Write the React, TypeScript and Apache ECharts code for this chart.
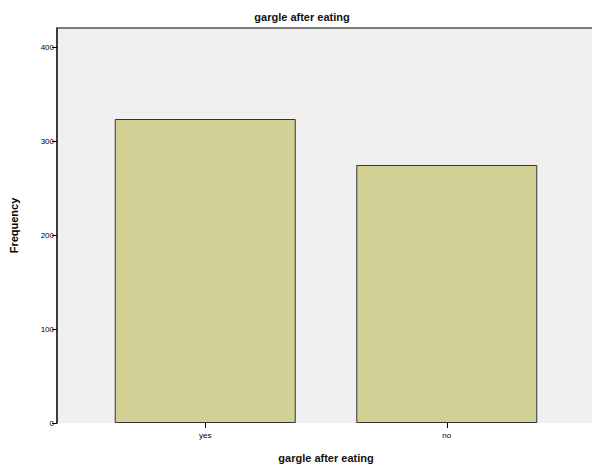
import React, { useEffect, useRef } from "react";
import * as echarts from "echarts";

const categories = ["yes", "no"];
const frequencies = [324, 275];
const yTicks = [0, 100, 200, 300, 400];
const chartTitle = "gargle after eating";
const xAxisTitle = "gargle after eating";
const yAxisTitle = "Frequency";

export default function App() {
  const ref = useRef<HTMLDivElement>(null);
  useEffect(() => {
    if (!ref.current) return;
    const chart = echarts.init(ref.current, null, { renderer: "svg" });
    const font = "'Liberation Sans', Arial, sans-serif";
    chart.setOption({
      animation: false,
      backgroundColor: "#ffffff",
      title: {
        text: chartTitle,
        left: 297,
        top: 6,
        textAlign: "center",
        textStyle: { fontFamily: font, fontSize: 11, fontWeight: "bold", color: "#111" },
      },
      graphic: [
        {
          type: "rect",
          z: 0,
          shape: { x: 56, y: 28, width: 540, height: 395 },
          style: { fill: "#f0f0f0" },
          silent: true,
        },
        {
          type: "line",
          z: 1,
          shape: { x1: 56, y1: 28, x2: 596, y2: 28 },
          style: { stroke: "#555", lineWidth: 1.5 },
          silent: true,
        },
      ],
      grid: { left: 83.5, right: 24.5, top: 28, bottom: 47 },
      xAxis: {
        type: "category",
        data: categories,
        name: xAxisTitle,
        nameLocation: "middle",
        nameGap: 29,
        nameTextStyle: { fontFamily: font, fontSize: 11, fontWeight: "bold", color: "#111" },
        axisLine: { show: false },
        axisTick: { show: true, alignWithLabel: true, length: 5, lineStyle: { color: "#000" } },
        axisLabel: { fontFamily: font, fontSize: 8, color: "#000", margin: 8 },
      },
      yAxis: {
        type: "value",
        min: 0,
        max: 421,
        interval: 100,
        offset: 27.5,
        name: yAxisTitle,
        nameLocation: "middle",
        nameRotate: 90,
        nameGap: 38,
        nameTextStyle: { fontFamily: font, fontSize: 11, fontWeight: "bold", color: "#000" },
        axisLine: { show: true, lineStyle: { color: "#000", width: 1.5 } },
        axisTick: { show: true, length: 5, lineStyle: { color: "#000" }, customValues: yTicks },
        axisLabel: { fontFamily: font, fontSize: 8, color: "#000", margin: 3, customValues: yTicks },
        splitLine: { show: false },
      },
      series: [
        {
          type: "bar",
          data: frequencies,
          barWidth: 181,
          itemStyle: { color: "#d3d096", borderColor: "#333", borderWidth: 1 },
        },
      ],
    });
    return () => chart.dispose();
  }, []);
  return <div ref={ref} style={{ width: 592, height: 470, position: "absolute", left: 0, top: 0 }} />;
}
